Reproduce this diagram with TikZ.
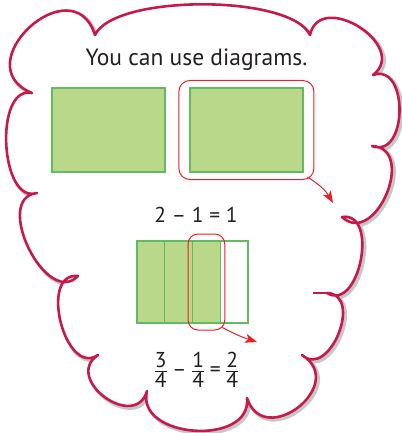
\documentclass[tikz,border=0pt]{standalone}
\usepackage{amsmath}
\usepackage{fontspec}
\setmainfont{PT Sans}
\usetikzlibrary{arrows.meta, positioning, calc, fit}
% outline of the thought cloud, one bulge between two cusps
\newcommand{\cloudpath}{(c1) \foreach \from/\to/\fac/\ang in {c1/c2/0.21/65, c2/c3/0.63/110,
    c3/c4/0.54/110, c4/c5/0.59/110, c5/c6/0.49/110, c6/c7/0.55/110, c7/c8/0.79/110,
    c8/c9/0.49/100, c9/c10/0.70/110, c10/c11/0.49/110, c11/c12/0.49/110,
    c12/c13/0.39/105, c13/c1/0.86/115}
    { .. controls ($(\from)!\fac!\ang:(\to)$) and ($(\to)!\fac!-\ang:(\from)$) .. (\to) } -- cycle}
\newcommand{\qfrac}[2]{\ensuremath{\displaystyle\nulldelimiterspace=0pt
    \frac{\raisebox{-5.5pt}[0pt][0pt]{#1}}{\raisebox{3pt}[0pt][0pt]{#2}}}}

\begin{document}
\begin{tikzpicture}[
    x=1pt, y=1pt,
    >=Stealth,
]
\definecolor{cloudRed}{HTML}{C51A4A}
\definecolor{pickRed}{HTML}{E8202A}
\definecolor{partFill}{HTML}{BAD88A}
\definecolor{partEdge}{HTML}{62BB63}
\definecolor{inkDark}{HTML}{231F20}

\tikzset{
    cloudline/.style={draw=cloudRed, line width=2.6pt, line join=round},
    cloudshadow/.style={draw=black!22, line width=4pt, line join=round},
    wholebox/.style={
        rectangle, draw=partEdge, fill=partFill, line width=1.4pt,
        minimum width=113pt, minimum height=84pt, inner sep=0pt, outer sep=0pt,
    },
    quarterbox/.style={wholebox, minimum width=27.75pt, minimum height=82pt},
    emptyquarter/.style={quarterbox, fill=white},
    pickloop/.style={draw=pickRed, line width=1pt, rounded corners=11pt},
    pickarrow/.style={->, draw=pickRed, line width=1pt,
        arrows={-Stealth[length=12pt, width=9pt, inset=3pt]}},
    titletext/.style={font=\fontsize{23.5}{28}\selectfont, text=inkDark, inner sep=0pt},
    eqtext/.style={font=\fontsize{21.5}{26}\selectfont, text=inkDark, inner sep=0pt},
}

\useasboundingbox (0,0) rectangle (401,-433);

\coordinate (c1) at (95,-35);
\coordinate (c2) at (310,-35);
\coordinate (c3) at (373,-75);
\coordinate (c4) at (372,-146);
\coordinate (c5) at (342,-217);
\coordinate (c6) at (327,-293);
\coordinate (c7) at (302,-355);
\coordinate (c8) at (247,-398);
\coordinate (c9) at (147,-391);
\coordinate (c10) at (98,-355);
\coordinate (c11) at (78,-276);
\coordinate (c12) at (37,-193);
\coordinate (c13) at (32,-93);
\coordinate (stub) at (313,-293);

\begin{scope}[transform canvas={shift={(2pt,-2pt)}}]
\draw[cloudshadow] \cloudpath;
\end{scope}
\draw[cloudline, fill=white] \cloudpath;
\draw[cloudline] (c6) -- (stub);

\node[titletext, anchor=base] (title) at (196.5,-66) {You can use diagrams.};

\node[wholebox] (whole1) at (108.4,-130) {};
\node[wholebox, right=25pt of whole1] (whole2) {};
\node[pickloop, fit=(whole2), inner xsep=11pt, inner ysep=7.5pt] (pick1) {};
\coordinate (tip1) at (333,-203);
\draw[pickarrow] ([shift={(-7pt,3pt)}]pick1.south east) to[bend left=14] (tip1);

\node[eqtext, anchor=base] (wholediff) at (196,-222) {2 – 1 = 1};

\node[quarterbox] (quarter1) at (150.9,-282) {};
\node[quarterbox, right=0pt of quarter1] (quarter2) {};
\node[quarterbox, right=0pt of quarter2] (quarter3) {};
\node[emptyquarter, right=0pt of quarter3] (quarter4) {};
\node[pickloop, fit=(quarter3), inner xsep=4.5pt, inner ysep=7pt, rounded corners=10pt] (pick2) {};
\coordinate (tip2) at (257,-342);
\draw[pickarrow] ([shift={(-3pt,3pt)}]pick2.south east) to[bend right=5] (tip2);

\node[eqtext, anchor=base] (fracdiff) at (196.5,-376.4)
    {\qfrac{3}{4} – \qfrac{1}{4} = \qfrac{2}{4}};

\end{tikzpicture}
\end{document}
